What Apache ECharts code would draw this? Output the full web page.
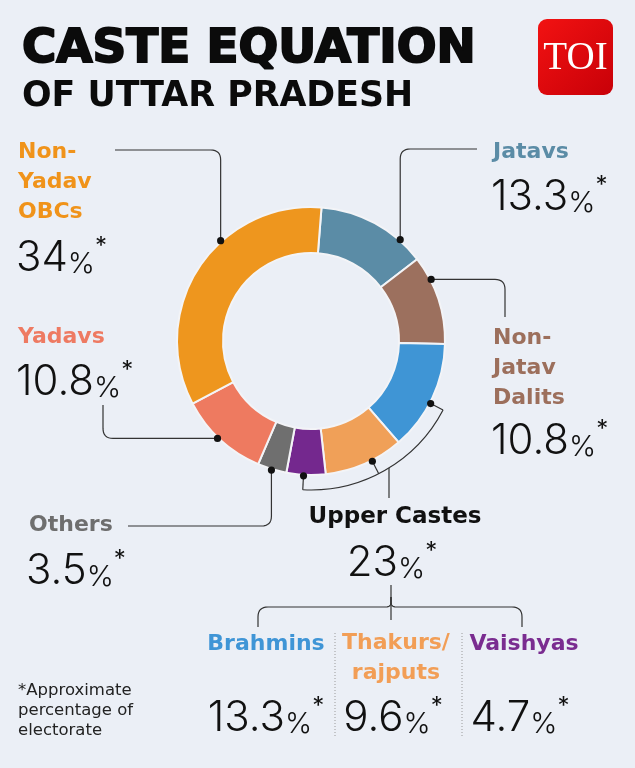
<!DOCTYPE html>
<html>
<head>
<meta charset="utf-8">
<title>Caste equation of Uttar Pradesh</title>
<script src="https://cdn.jsdelivr.net/npm/echarts@6/dist/echarts.min.js"></script>
<style>
  html, body { margin: 0; padding: 0; background: #ebeff6; }
  #chart { width: 635px; height: 768px; }
</style>
</head>
<body>
<div id="chart"></div>
<script>
// groups in drawing order, clockwise from the top
var groups = ['Jatavs', 'Non-Jatav Dalits', 'Brahmins', 'Thakurs/rajputs', 'Vaishyas', 'Others', 'Yadavs', 'Non-Yadav OBCs'];
var shares = [13.3, 10.8, 13.3, 9.6, 4.7, 3.5, 10.8, 34];
var colors = ['#5b8ca6', '#9c705e', '#3f95d5', '#f0a058', '#74288e', '#6f6f6f', '#ee7a60', '#ee961e'];
var upperCastes = 23;

var CX = 311, CY = 341, R0 = 88, R1 = 134;
var START = 85.5;
var BG = '#ebeff6';
var LINE = '#333';
var BOLD = 'bold 22px "DejaVu Sans"';
var NUMFONT = 'Inter';

var total = shares.reduce(function(a, b) { return a + b; }, 0);

function ringAngle(i, frac) {
    var before = 0;
    for (var k = 0; k < i; k++) before += shares[k];
    return (90 - START) + (before + frac * shares[i]) / total * 360;
}
// point on the ring: segment i, fraction along it, radius r
function ringPoint(i, frac, r) {
    var rad = ringAngle(i, frac) * Math.PI / 180;
    return [CX + r * Math.sin(rad), CY - r * Math.cos(rad)];
}

var dotFrac = [0.77, 0.27, 0.55, 0.40, 0.56, 0.51, 0.53, 0.62];
var dots = groups.map(function(g, i) { return ringPoint(i, dotFrac[i], 135); });

function pct(v) {
    return '{n|' + v + '}{p|%}{s|*}';
}
var numRich = {
    n: { fontSize: 42, fontFamily: NUMFONT, fontWeight: 300, fill: '#111', verticalAlign: 'bottom', lineHeight: 44 },
    p: { fontSize: 29, fontFamily: NUMFONT, fontWeight: 300, fill: '#111', verticalAlign: 'bottom', lineHeight: 34 },
    s: { fontSize: 24, fontFamily: NUMFONT, fontWeight: 400, fill: '#111', verticalAlign: 'top', lineHeight: 24 }
};

function label(text, x, y, color, align) {
    return {
        type: 'text', silent: true,
        style: { text: text, x: x, y: y, font: BOLD, fill: color, textAlign: align || 'left', textVerticalAlign: 'middle', lineHeight: 30 }
    };
}
function number(v, x, y, align) {
    return {
        type: 'text', silent: true,
        style: { text: pct(v), x: x, y: y, rich: numRich, textAlign: align || 'left', textVerticalAlign: 'middle' }
    };
}
// polyline with rounded corners
function leader(pts, rad) {
    rad = rad === undefined ? 10 : rad;
    var out = [pts[0]];
    for (var i = 1; i < pts.length - 1; i++) {
        var a = pts[i - 1], b = pts[i], c = pts[i + 1];
        var l1 = Math.hypot(b[0] - a[0], b[1] - a[1]), l2 = Math.hypot(c[0] - b[0], c[1] - b[1]);
        var r = Math.min(rad, l1 / 2, l2 / 2);
        var p = [b[0] - (b[0] - a[0]) / l1 * r, b[1] - (b[1] - a[1]) / l1 * r];
        var q = [b[0] + (c[0] - b[0]) / l2 * r, b[1] + (c[1] - b[1]) / l2 * r];
        for (var t = 0; t <= 8; t++) {
            var s = t / 8;
            out.push([
                (1 - s) * (1 - s) * p[0] + 2 * s * (1 - s) * b[0] + s * s * q[0],
                (1 - s) * (1 - s) * p[1] + 2 * s * (1 - s) * b[1] + s * s * q[1]
            ]);
        }
    }
    out.push(pts[pts.length - 1]);
    return { type: 'polyline', silent: true, z: 100, shape: { points: out }, style: { fill: null, stroke: LINE, lineWidth: 1.2 } };
}
function dot(p) {
    return { type: 'circle', silent: true, z: 110, shape: { cx: p[0], cy: p[1], r: 3.6 }, style: { fill: '#111' } };
}

var els = [];

// title + logo
els.push({ type: 'text', silent: true, style: { text: 'CASTE EQUATION', x: 22, y: 50, font: 'bold 46.8px "DejaVu Sans"', fill: '#0b0b0b', stroke: '#0b0b0b', lineWidth: 2, textVerticalAlign: 'middle' } });
els.push({ type: 'text', silent: true, style: { text: 'OF UTTAR PRADESH', x: 22, y: 97, font: 'bold 34.8px "DejaVu Sans"', fill: '#0b0b0b', textVerticalAlign: 'middle' } });
els.push({
    type: 'rect', silent: true, shape: { x: 538, y: 19, width: 75, height: 76, r: 9 },
    style: { fill: new echarts.graphic.LinearGradient(0, 0, 1, 1, [{ offset: 0, color: '#f21212' }, { offset: 1, color: '#c80008' }]) }
});
els.push({ type: 'text', silent: true, style: { text: 'TOI', x: 575.5, y: 59, font: '39px "Liberation Serif"', fill: '#fff', textAlign: 'center', textVerticalAlign: 'middle' } });

// group labels
els.push(label('Non-\nYadav\nOBCs', 18, 182, '#f0931a'));
els.push(number(shares[7], 16, 257));
els.push(label('Yadavs', 18, 337, '#ee7a62'));
els.push(number(shares[6], 16, 381));
els.push(label('Jatavs', 493, 152, '#5b8ca6'));
els.push(number(shares[0], 491, 196));
els.push(label('Non-\nJatav\nDalits', 493, 368, '#9c6f5c'));
els.push(number(shares[1], 491, 440));
els.push(label('Others', 29, 525, '#6e6e6e'));
els.push(number(shares[5], 26, 570));
els.push({ type: 'text', silent: true, style: { text: 'Upper Castes', x: 395, y: 517, font: 'bold 23px "DejaVu Sans"', fill: '#111', textAlign: 'center', textVerticalAlign: 'middle' } });
els.push(number(upperCastes, 392, 562, 'center'));
els.push(label('Brahmins', 266, 644, '#3f95d6', 'center'));
els.push(label('Thakurs/\nrajputs', 396, 658, '#f29e56', 'center'));
els.push(label('Vaishyas', 524, 644, '#7a2c90', 'center'));
els.push(number(shares[2], 266, 717, 'center'));
els.push(number(shares[3], 393, 717, 'center'));
els.push(number(shares[4], 520, 717, 'center'));
els.push({ type: 'text', silent: true, style: { text: '*Approximate\npercentage of\nelectorate', x: 18, y: 711, font: '16.5px "DejaVu Sans"', fill: '#222', lineHeight: 20, textVerticalAlign: 'middle' } });

// leader lines
var d;
d = dots[7]; els.push(leader([[115, 150], [d[0], 150], d]));
d = dots[0]; els.push(leader([[477, 149], [d[0], 149], d]));
d = dots[1]; els.push(leader([d, [505, d[1]], [505, 317]]));
d = dots[6]; els.push(leader([[103, 405], [103, d[1]], d]));
d = dots[5]; els.push(leader([d, [d[0], 526], [128, 526]]));

// upper-caste bracket round the ring
var RB = 149;
var aB = ringAngle(2, dotFrac[2]), aV = ringAngle(4, dotFrac[4]);
els.push({
    type: 'arc', silent: true, z: 100,
    shape: { cx: CX, cy: CY, r: RB, startAngle: (aB - 90) * Math.PI / 180, endAngle: (aV - 90) * Math.PI / 180, clockwise: true },
    style: { fill: null, stroke: LINE, lineWidth: 1.2 }
});
[2, 3, 4].forEach(function(i) {
    els.push(leader([dots[i], ringPoint(i, dotFrac[i], RB)]));
});
var xDrop = 389;
var yDrop = CY + Math.sqrt(RB * RB - (xDrop - CX) * (xDrop - CX));
els.push(leader([[xDrop, yDrop], [xDrop, 498]]));

// brace under the 23%
els.push(leader([[391, 585], [391, 620]]));
els.push(leader([[258, 627], [258, 607], [391, 607], [391, 597]]));
els.push(leader([[391, 597], [391, 607], [522, 607], [522, 627]]));

// dotted column separators
[335, 462].forEach(function(x) {
    els.push({ type: 'line', silent: true, shape: { x1: x, y1: 633, x2: x, y2: 737 }, style: { stroke: '#9a9a9a', lineWidth: 1, lineDash: [1, 2] } });
});

dots.forEach(function(p) { els.push(dot(p)); });

var chart = echarts.init(document.getElementById('chart'));
chart.setOption({
    backgroundColor: BG,
    animation: false,
    series: [{
        type: 'pie',
        center: [CX, CY],
        radius: [R0, R1],
        startAngle: START,
        clockwise: true,
        silent: true,
        z: 2,
        label: { show: false },
        labelLine: { show: false },
        itemStyle: { borderColor: '#f3f4f7', borderWidth: 2 },
        data: groups.map(function(g, i) {
            return { name: g, value: shares[i], itemStyle: { color: colors[i] } };
        })
    }],
    graphic: { elements: els }
});
</script>
</body>
</html>
